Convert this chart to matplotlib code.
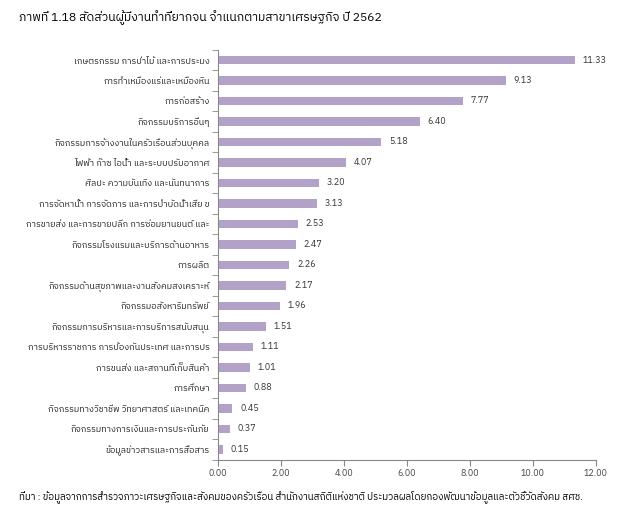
import numpy as np
import matplotlib.pyplot as plt

plt.rcParams['font.family'] = ['IBM Plex Sans Thai', 'Noto Sans Thai', 'DejaVu Sans']

categories = ['เกษตรกรรม การป่าไม้ และการประมง',
              'การทำเหมืองแร่และเหมืองหิน',
              'การก่อสร้าง',
              'กิจกรรมบริการอื่นๆ',
              'กิจกรรมการจ้างงานในครัวเรือนส่วนบุคคล',
              'ไฟฟ้า ก๊าซ ไอน้ำ และระบบปรับอากาศ',
              'ศิลปะ ความบันเทิง และนันทนาการ',
              'การจัดหาน้ำ การจัดการ และการบำบัดน้ำเสีย ข',
              'การขายส่ง และการขายปลีก การซ่อมยานยนต์ และ',
              'กิจกรรมโรงแรมและบริการด้านอาหาร',
              'การผลิต',
              'กิจกรรมด้านสุขภาพและงานสังคมสงเคราะห์',
              'กิจกรรมอสังหาริมทรัพย์',
              'กิจกรรมการบริหารและการบริการสนับสนุน',
              'การบริหารราชการ การป้องกันประเทศ และการปร',
              'การขนส่ง และสถานที่เก็บสินค้า',
              'การศึกษา',
              'กิจกรรมทางวิชาชีพ วิทยาศาสตร์ และเทคนิค',
              'กิจกรรมทางการเงินและการประกันภัย',
              'ข้อมูลข่าวสารและการสื่อสาร']
values = [11.33, 9.13, 7.77, 6.40, 5.18, 4.07, 3.20, 3.13, 2.53, 2.47,
          2.26, 2.17, 1.96, 1.51, 1.11, 1.01, 0.88, 0.45, 0.37, 0.15]
xticks = [0, 2, 4, 6, 8, 10, 12]

title = 'ภาพที่ 1.18 สัดส่วนผู้มีงานทำที่ยากจน จำแนกตามสาขาเศรษฐกิจ ปี 2562'
source = ('ที่มา : ข้อมูลจากการสำรวจภาวะเศรษฐกิจและสังคมของครัวเรือน สำนักงานสถิติแห่งชาติ '
          'ประมวลผลโดยกองพัฒนาข้อมูลและตัวชี้วัดสังคม สศช.')

fig = plt.figure(figsize=(6.3, 5.13), dpi=100)
ax = fig.add_axes([0.346, 0.104, 0.600, 0.799])

y = np.arange(len(values))
ax.barh(y, values, height=0.42, color='#b3a2c7')
for yi, v in zip(y, values):
    ax.text(v + 0.25, yi, '%.2f' % v, va='center', ha='left', fontsize=6.5, color='#333333')

ax.set_ylim(len(values) - 0.5, -0.5)
ax.set_xlim(0, 12)
ax.set_xticks(xticks)
ax.set_xticklabels(['%.2f' % t for t in xticks])
ax.set_yticks(y)
ax.set_yticklabels(categories)

ax.set_yticks(np.arange(len(values) + 1) - 0.5, minor=True)
ax.tick_params(axis='y', which='major', length=0, labelsize=6.5, pad=6, labelcolor='#222222')
ax.tick_params(axis='y', which='minor', length=4, direction='out', color='#888888')
ax.tick_params(axis='x', length=4, color='#888888', labelsize=6.5, labelcolor='#444444', pad=3)

for s in ['top', 'right']:
    ax.spines[s].set_visible(False)
ax.spines['left'].set_color('#888888')
ax.spines['bottom'].set_color('#888888')

fig.text(0.03, 0.965, title, fontsize=8.7, ha='left', va='center')
fig.text(0.03, 0.032, source, fontsize=7, ha='left', va='center')

fig.savefig('out.png', dpi=100)
